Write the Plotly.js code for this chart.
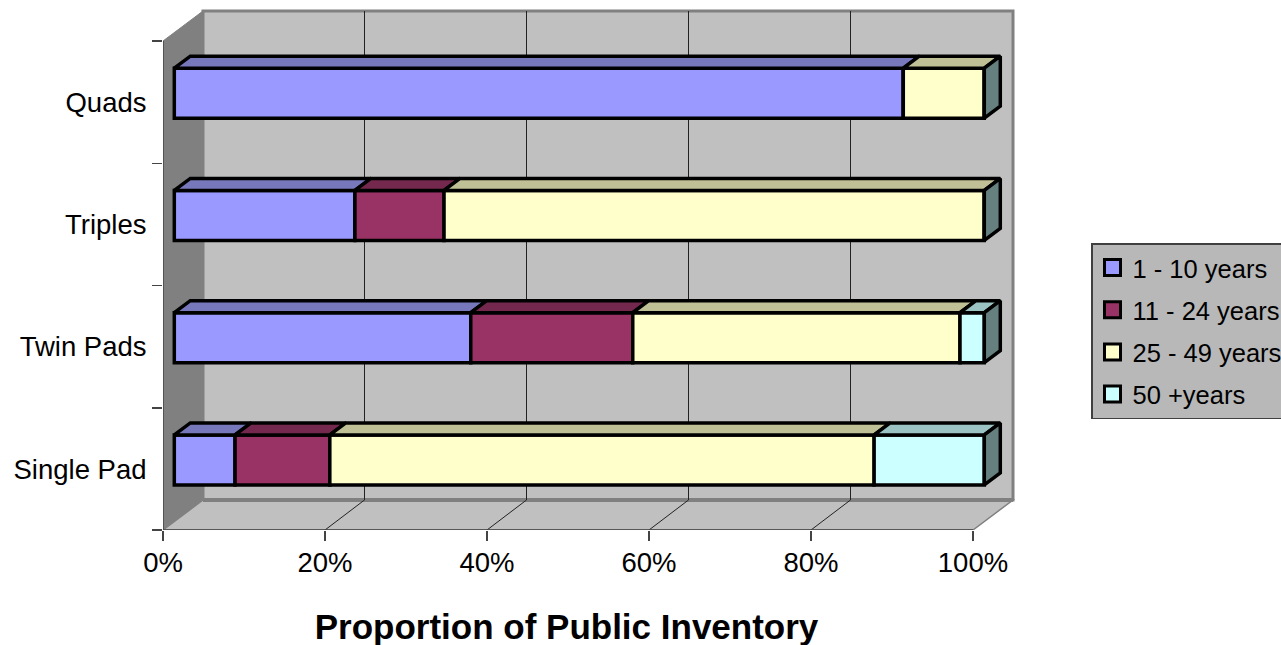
<!DOCTYPE html>
<html>
<head>
<meta charset="utf-8">
<script src="https://cdn.plot.ly/plotly-3.0.1.min.js"></script>
<style>html,body{margin:0;padding:0;background:#fff;overflow:hidden}#chart{width:1281px;height:645px}</style>
</head>
<body>
<div id="chart"></div>
<script>
const categories = ['Single Pad', 'Twin Pads', 'Triples', 'Quads'];
const seriesNames = ['1 - 10 years', '11 - 24 years', '25 - 49 years', '50 +years'];
const years1to10 = [7.5, 36.6, 22.3, 90];
const years11to24 = [11.7, 20, 11, 0];
const years25to49 = [67.2, 40.4, 66.7, 10];
const years50plus = [13.6, 3, 0, 0];
const frontColors = ['#9999FF', '#993366', '#FFFFCC', '#CCFFFF'];
const topColors = ['#7777BB', '#74284E', '#C0C096', '#9CC3C3'];
const sideColor = '#668080';
const xTicks = [0, 20, 40, 60, 80, 100];

const allSeries = [years1to10, years11to24, years25to49, years50plus];
const PX = 8.1, PY = 122.25;            // pixels per axis unit
const wallDx = 40 / PX, wallDy = 30 / PY;
const gridDx = 39.5 / PX;
const barDx = 11.3 / PX, barDy = 9 / PY;
const depthDx = 16 / PX, depthDy = 12 / PY;
const halfH = 25 / PY;
const nCat = categories.length;
const edge = 3.5;

const traces = [];
const cum = categories.map(() => 0);
const tops = [];
allSeries.forEach((vals, s) => {
  const base = [], ys = [], tx = [], ty = [];
  vals.forEach((v, i) => {
    const b = cum[i];
    base.push(b + barDx);
    const yc = i + 0.5 + barDy;
    ys.push(yc);
    if (v > 0) {
      const top = yc + halfH;
      tx.push(b + barDx, b + v + barDx, b + v + barDx + depthDx, b + barDx + depthDx, b + barDx, null);
      ty.push(top, top, top + depthDy, top + depthDy, top, null);
    }
    cum[i] += v;
  });
  traces.push({type: 'bar', orientation: 'h', name: seriesNames[s], x: vals, base: base, y: ys,
    width: 2 * halfH, showlegend: false, hoverinfo: 'skip',
    marker: {color: frontColors[s], line: {color: '#000', width: edge}}});
  tops.push({type: 'scatter', mode: 'lines', x: tx, y: ty, fill: 'toself', fillcolor: topColors[s],
    line: {color: '#000', width: edge}, showlegend: false, hoverinfo: 'skip'});
});
traces.push(...tops);

// right-hand end faces of each stacked bar
const sx = [], sy = [];
cum.forEach((c, i) => {
  const yc = i + 0.5 + barDy, e = c + barDx;
  sx.push(e, e + depthDx, e + depthDx, e, e, null);
  sy.push(yc + halfH, yc + halfH + depthDy, yc - halfH + depthDy, yc - halfH, yc + halfH, null);
});
traces.push({type: 'scatter', mode: 'lines', x: sx, y: sy, fill: 'toself', fillcolor: sideColor,
  line: {color: '#000', width: edge}, showlegend: false, hoverinfo: 'skip'});

// axis lines (stop at the front plane, not at the wall)
traces.push({type: 'scatter', mode: 'lines', x: [0, 0], y: [0, nCat], cliponaxis: false,
  line: {color: '#444', width: 1.5}, showlegend: false, hoverinfo: 'skip'});
traces.push({type: 'scatter', mode: 'lines', x: [0, 100], y: [0, 0], cliponaxis: false,
  line: {color: '#444', width: 1.5}, showlegend: false, hoverinfo: 'skip'});

// legend entries
seriesNames.forEach((n, s) => {
  traces.push({type: 'scatter', mode: 'markers', name: n, x: [null], y: [null], legendgroup: 'g' + s,
    marker: {symbol: 'square', size: 16, color: frontColors[s], line: {color: '#000', width: 3}}});
});

const shapes = [];
const poly = (pts, fill, lineCol, w) => ({type: 'path', xref: 'x', yref: 'y', layer: 'below',
  path: 'M' + pts.map(p => p.join(',')).join('L') + 'Z', fillcolor: fill,
  line: {color: lineCol, width: w}});
const seg = (a, b, col, w) => ({type: 'line', xref: 'x', yref: 'y', layer: 'below',
  x0: a[0], y0: a[1], x1: b[0], y1: b[1], line: {color: col, width: w}});
const wx = wallDx, wy = wallDy;
shapes.push(poly([[wx, wy], [100 + wx, wy], [100 + wx, nCat + wy], [wx, nCat + wy]], '#C0C0C0', '#808080', 3));
shapes.push(poly([[0, 0], [wx, wy], [wx, nCat + wy], [0, nCat]], '#808080', '#808080', 1));
shapes.push(poly([[0, 0], [wx, wy], [100 + wx, wy], [100, 0]], '#C0C0C0', '#808080', 1.5));
shapes.push(seg([wx, wy], [100 + wx, wy], '#808080', 4));
xTicks.filter(t => t > 0 && t < 100).forEach(t => {
  shapes.push(seg([t + gridDx, wy], [t + gridDx, nCat + wy], '#222', 1));
  shapes.push(seg([t, 0], [t + gridDx, wy], '#222', 1));
});

const layout = {
  width: 1281, height: 645,
  margin: {l: 163, r: 265, t: 8, b: 115, pad: 0},
  paper_bgcolor: '#fff', plot_bgcolor: 'rgba(0,0,0,0)',
  font: {family: 'Liberation Sans, Arial, sans-serif', size: 28, color: '#000'},
  barmode: 'overlay',
  title: {text: '<b>Proportion of Public Inventory</b>', font: {size: 35, color: '#000'},
    xref: 'container', yref: 'container', x: 566.5 / 1281, y: 1 - 627 / 645, xanchor: 'center', yanchor: 'middle'},
  xaxis: {range: [0, 853 / PX], tickmode: 'array', tickvals: xTicks, ticktext: xTicks.map(t => t + '%'),
    ticks: 'outside', ticklen: 10, tickwidth: 1.5, tickcolor: '#444', showgrid: false, zeroline: false,
    showline: false, fixedrange: true, tickfont: {size: 27.5}, ticklabelstandoff: -2},
  yaxis: {range: [0, 522 / PY], tickmode: 'array', tickvals: categories.map((c, i) => i + 0.5), ticktext: categories,
    ticks: 'outside', ticklen: 10, tickcolor: 'rgba(0,0,0,0)', showgrid: false, zeroline: false, showline: false,
    fixedrange: true, tickfont: {size: 27.5},
    minor: {tickmode: 'array', tickvals: categories.map((c, i) => i).concat([nCat]), ticks: 'outside', ticklen: 10,
      tickwidth: 1.5, tickcolor: '#444', showgrid: false}},
  shapes: shapes,
  showlegend: true,
  legend: {xref: 'container', yref: 'container', x: 1091 / 1281, y: 1 - 243 / 645, xanchor: 'left', yanchor: 'top',
    bgcolor: '#B8B8B8', bordercolor: '#404040', borderwidth: 1.5, font: {size: 25.5, color: '#000'},
    itemwidth: 30, tracegroupgap: 6, traceorder: 'grouped', itemclick: false, itemdoubleclick: false}
};
Plotly.newPlot('chart', traces, layout, {displayModeBar: false, staticPlot: true});
</script>
</body>
</html>
